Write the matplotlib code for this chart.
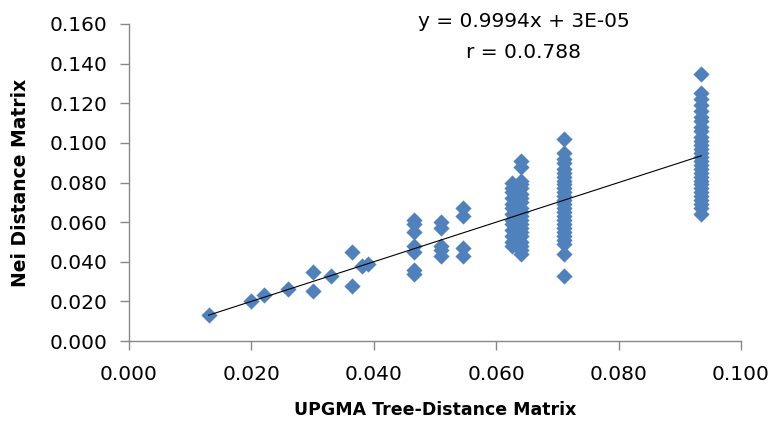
import numpy as np
import matplotlib
matplotlib.use("Agg")
import matplotlib.pyplot as plt

# UPGMA tree distance (x) vs Nei distance (y)
x_sparse = [0.013, 0.020, 0.022, 0.026, 0.030, 0.030, 0.033, 0.0365, 0.0365, 0.038, 0.039,
            0.0465, 0.0465, 0.0465, 0.0465, 0.0465, 0.0465, 0.0465,
            0.051, 0.051, 0.051, 0.051, 0.051,
            0.0545, 0.0545, 0.0545, 0.0545]
y_sparse = [0.013, 0.020, 0.023, 0.026, 0.035, 0.025, 0.033, 0.045, 0.028, 0.038, 0.039,
            0.061, 0.059, 0.055, 0.048, 0.045, 0.036, 0.034,
            0.060, 0.057, 0.048, 0.046, 0.043,
            0.067, 0.063, 0.047, 0.043]

y_0625 = [0.080, 0.077, 0.075, 0.072, 0.069, 0.067, 0.064, 0.061, 0.059, 0.056, 0.053,
          0.050, 0.048]
y_064 = [0.091, 0.088, 0.081, 0.079, 0.077, 0.074, 0.072, 0.070, 0.067, 0.065, 0.063,
         0.061, 0.059, 0.057, 0.055, 0.053, 0.050, 0.048, 0.046, 0.044]
y_071 = [0.102, 0.095, 0.092, 0.090, 0.087, 0.085, 0.083, 0.081, 0.079, 0.077, 0.075,
         0.073, 0.071, 0.069, 0.067, 0.065, 0.063, 0.061, 0.059, 0.057, 0.055, 0.053,
         0.051, 0.049, 0.044, 0.033]
y_0935 = [0.135, 0.125, 0.122, 0.119, 0.116, 0.113, 0.111, 0.108, 0.106, 0.103, 0.101,
          0.099, 0.097, 0.095, 0.093, 0.091, 0.089, 0.087, 0.085, 0.083, 0.081, 0.079,
          0.077, 0.075, 0.073, 0.071, 0.069, 0.067, 0.064]

slope, intercept = 0.9994, 3e-05
eq_text = "y = 0.9994x + 3E-05"
r_text = "r = 0.0.788"

x = np.array(x_sparse + [0.0625] * len(y_0625) + [0.064] * len(y_064)
             + [0.071] * len(y_071) + [0.0935] * len(y_0935))
y = np.array(y_sparse + y_0625 + y_064 + y_071 + y_0935)

fig = plt.figure(figsize=(7.74, 4.21), dpi=100)
ax = fig.add_axes([0.1667, 0.19, 0.7907, 0.753])

ax.scatter(x, y, marker="D", s=68, color="#4F81BD", linewidths=0, zorder=2, clip_on=False)
xl = np.array([x.min(), x.max()])
ax.plot(xl, slope * xl + intercept, color="black", lw=0.8, zorder=3)

ax.set_xlim(0, 0.1)
ax.set_ylim(0, 0.16)
ax.set_xticks(np.arange(0, 0.1001, 0.02))
ax.set_yticks(np.arange(0, 0.1601, 0.02))
ax.xaxis.set_major_formatter(matplotlib.ticker.FormatStrFormatter("%.3f"))
ax.yaxis.set_major_formatter(matplotlib.ticker.FormatStrFormatter("%.3f"))

for s in ["top", "right"]:
    ax.spines[s].set_visible(False)
for s in ["left", "bottom"]:
    ax.spines[s].set_color("#888888")
    ax.spines[s].set_linewidth(1.0)
ax.tick_params(axis="both", color="#888888", length=6.5, width=1.0, labelsize=14.5)
ax.tick_params(axis="y", pad=9)
ax.tick_params(axis="x", pad=11)

ax.set_xlabel("UPGMA Tree-Distance Matrix", fontsize=12.5, fontweight="bold", labelpad=12)
ax.set_ylabel("Nei Distance Matrix", fontsize=13.5, fontweight="bold", labelpad=14)

ax.text(0.0645, 0.1612, eq_text, fontsize=14.5, ha="center", va="center", clip_on=False)
ax.text(0.0645, 0.1455, r_text, fontsize=14.5, ha="center", va="center")

fig.savefig("out.png", dpi=100)
